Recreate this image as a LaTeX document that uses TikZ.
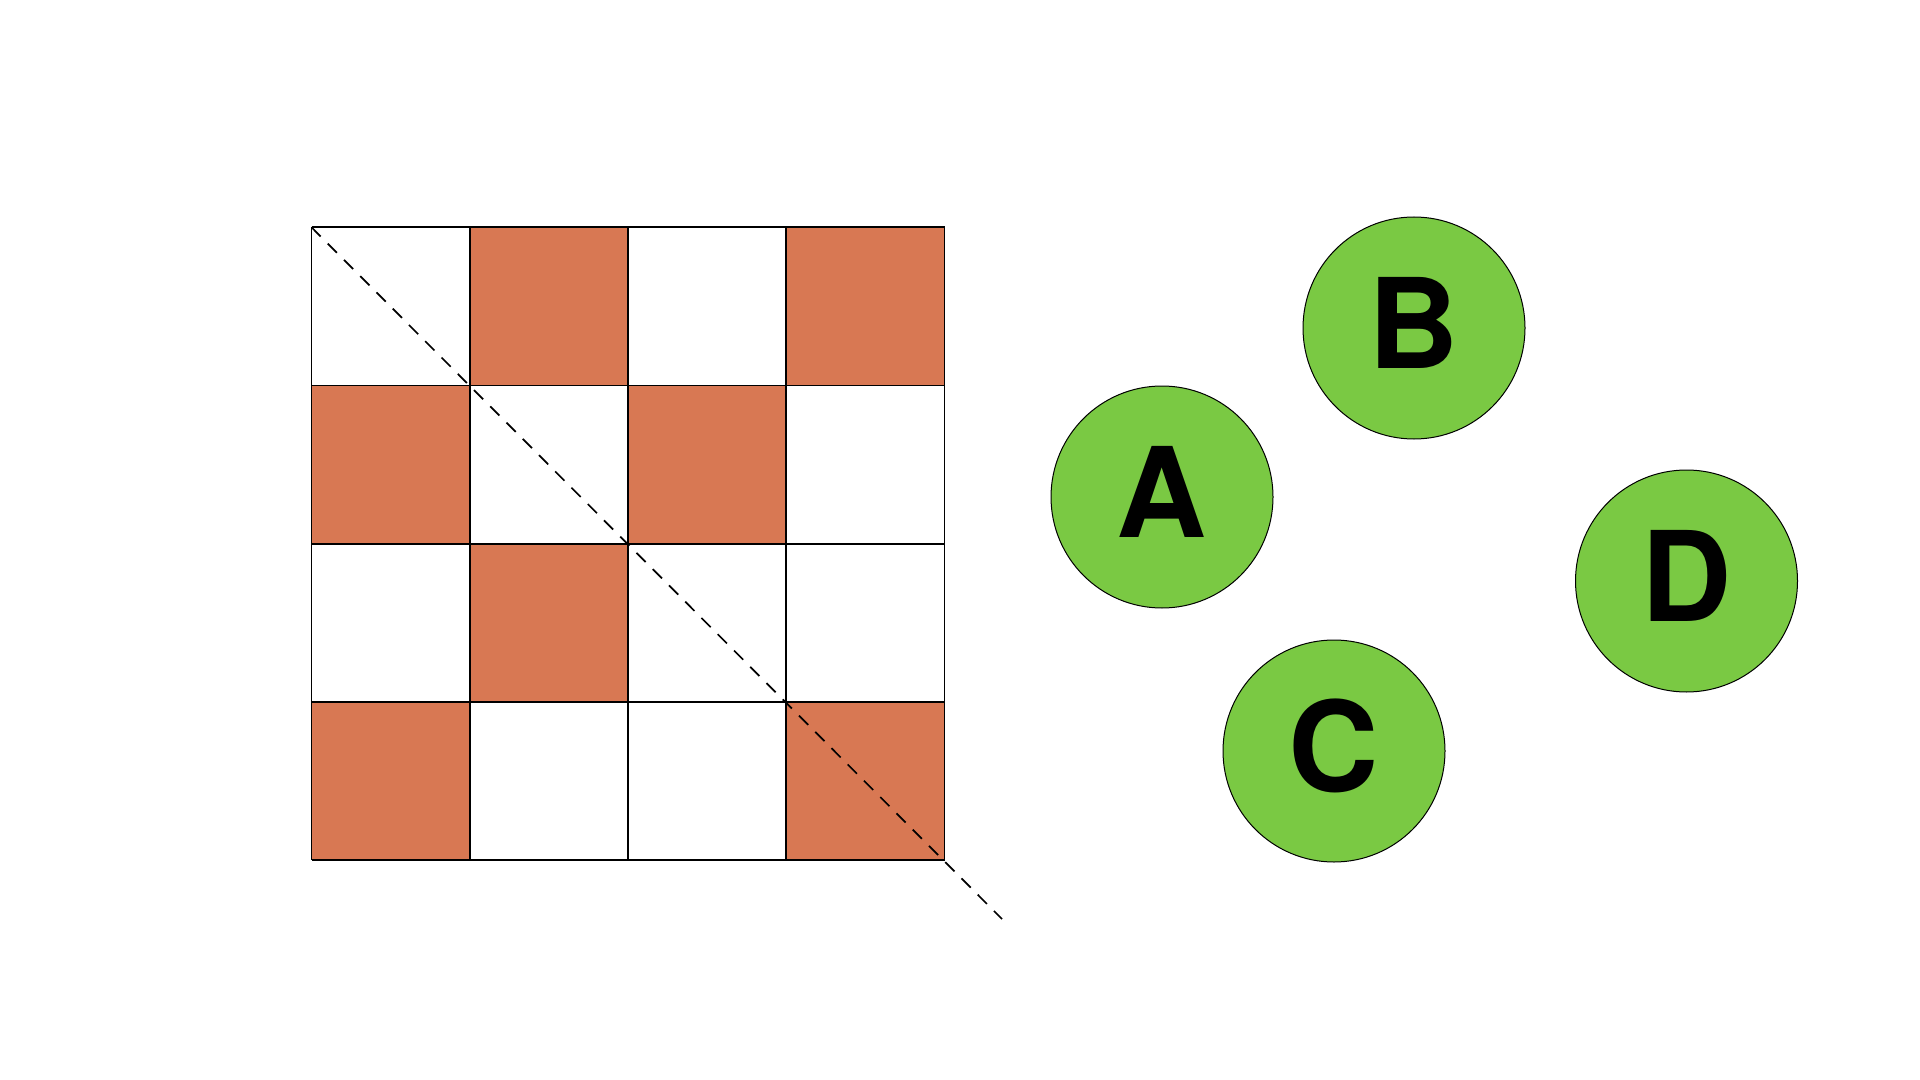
\documentclass[tikz,border=0pt]{standalone}
\usepackage{fontspec}
\setmainfont{TeX Gyre Heros}
\begin{document}
\begin{tikzpicture}[x=0.5pt,y=-0.5pt,
  cellfill/.style={fill=orangecell},
  gridline/.style={line width=0.9pt,black},
  diag/.style={line width=0.85pt,dash pattern=on 6.5pt off 5pt},
  ball/.style={circle,draw=black,line width=0.5pt,fill=greenball,minimum size=111pt,inner sep=0pt,
    font=\fontsize{62.5}{70}\selectfont\bfseries,text depth=5.5pt}]
\definecolor{orangecell}{HTML}{D87853}
\definecolor{greenball}{HTML}{7AC943}
\useasboundingbox[fill=white] (0,0) rectangle (1920,1080);
\def\ox{311.5}\def\oy{227.3}\def\cs{158.25}
% coloured cells (col,row)
\foreach \c/\r in {1/0,3/0,0/1,2/1,1/2,0/3,3/3}{
  \fill[cellfill] ({\ox+\c*\cs},{\oy+\r*\cs}) rectangle ({\ox+(\c+1)*\cs},{\oy+(\r+1)*\cs});
}
% grid
\foreach \i in {0,...,4}{
  \draw[gridline] ({\ox+\i*\cs},\oy) -- ({\ox+\i*\cs},{\oy+4*\cs});
  \draw[gridline] (\ox,{\oy+\i*\cs}) -- ({\ox+4*\cs},{\oy+\i*\cs});
}
\coordinate (d0) at (\ox,\oy);
\coordinate (d1) at (1002,919);
\draw[diag] (d0) -- (d1);
% circles
\node[ball] (A) at (1162,497) {A};
\node[ball] (B) at (1414,328) {B};
\node[ball] (C) at (1334,751) {C};
\node[ball] (D) at (1686.5,581) {D};
\end{tikzpicture}
\end{document}
